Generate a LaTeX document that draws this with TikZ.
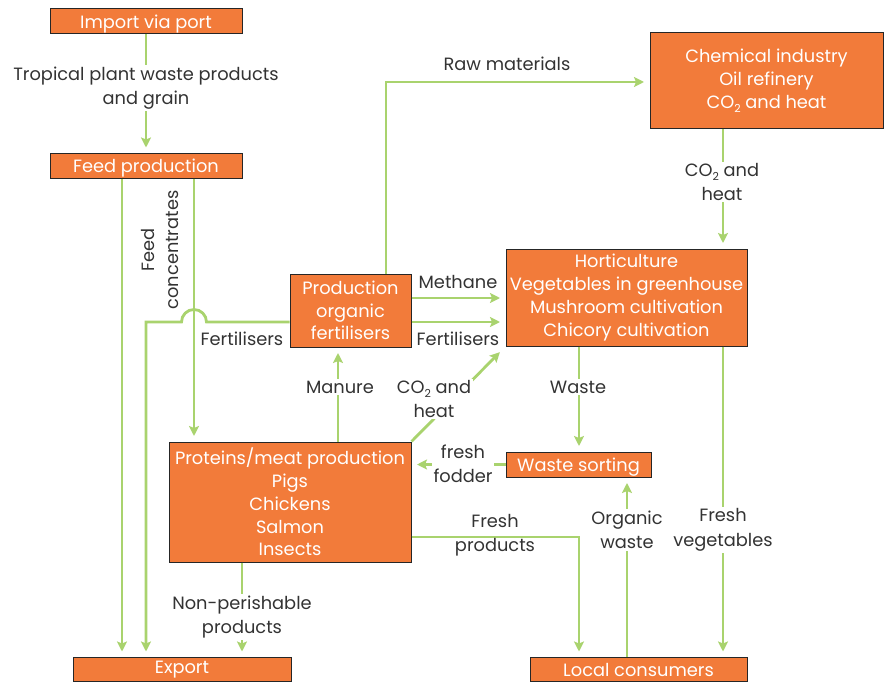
\documentclass[tikz,border=0pt]{standalone}
\usepackage{fontspec}
\setmainfont{Poppins}
\usetikzlibrary{arrows.meta}

\definecolor{boxorange}{HTML}{F27B3A}
\definecolor{flowgreen}{HTML}{A9D36E}
\definecolor{labelgray}{HTML}{333333}

% lowered subscript for CO2
\newcommand{\dn}[1]{\raisebox{-0.45ex}{\fontsize{11}{11}\selectfont #1}}

\tikzset{
  textdrop/.style={execute at begin node={\rule{0pt}{#1}}},
  textdrop/.default=18pt,
  box/.style={draw=black!85, line width=1pt, fill=boxorange, text=white,
    align=center, inner sep=0pt, font=\fontsize{17.8}{22.7}\selectfont},
  onebox/.style={box, minimum height=25pt, textdrop},
  basebox/.style={box, minimum height=24pt},
  lbl/.style={text=labelgray, align=center, inner sep=1.5pt,
    font=\fontsize{17.8}{24.5}\selectfont},
  lblw/.style={lbl, fill=white},
  flow/.style={draw=flowgreen, line width=2.8pt},
  arr/.style={flow, -{Stealth[length=10pt,width=10pt,inset=2pt]}, shorten >=5.5pt},
}

\begin{document}
\begin{tikzpicture}[x=1pt, y=-1pt]
  \useasboundingbox (0,0) rectangle (884,682);

  % boxes
  \node[onebox, minimum width=192pt] (imp)    at (146,21.5)  {Import via port};
  \node[onebox, minimum width=192pt] (feed)   at (146,166)   {Feed production};
  \node[box, minimum width=233pt, minimum height=96pt] (chem)   at (766.5,81)  {Chemical industry\\Oil refinery\\CO\dn{2} and heat};
  \node[box, minimum width=241pt, minimum height=97pt] (hort)   at (626.5,297.5) {Horticulture\\Vegetables in greenhouse\\Mushroom cultivation\\Chicory cultivation};
  \node[box, minimum width=121pt, minimum height=73pt] (pof)    at (350.5,310.5) {Production\\organic\\fertilisers};
  \node[box, minimum width=242pt, minimum height=120pt] (prot)  at (290,502)   {Proteins/meat production\\Pigs\\Chickens\\Salmon\\Insects};
  \node[onebox, minimum width=145pt] (ws)     at (578.5,464.5) {Waste sorting};
  \node[basebox, minimum width=218pt] (export) at (182,669.5)  {Export};
  \node[basebox, minimum width=217pt] (local)  at (638.5,669.5) {Local consumers};

  % guide positions for the connector lanes
  \coordinate (ym)  at (0,298);
  \coordinate (yf)  at (0,322);
  \coordinate (yp)  at (0,537);
  \coordinate (yr)  at (0,82);
  \coordinate (xa)  at (122,0);
  \coordinate (xb)  at (146,0);
  \coordinate (xc)  at (194,0);
  \coordinate (xd)  at (242,0);
  \coordinate (xm)  at (338,0);
  \coordinate (xr)  at (386,0);
  \coordinate (xw)  at (579,0);
  \coordinate (xo)  at (627,0);
  \coordinate (xv)  at (723,0);
  \coordinate (hopR) at (206.5,322);
  \coordinate (hopL) at (181.5,322);

  % connectors
  \draw[arr] (imp) -- (feed);
  \draw[arr] (feed.south -| xa) -- (export.north -| xa);
  \draw[arr] (feed.south -| xc) -- (prot.north -| xc);
  \draw[arr] (pof.west |- yf) -- (hopR)
     .. controls (206.5,315.1) and (200.9,309.5) .. (194,309.5)
     .. controls (187.1,309.5) and (181.5,315.1) .. (hopL)
     -- (xb |- yf) -- (export.north -| xb);
  \draw[arr] (pof.north -| xr) -- (xr |- yr) -- (chem.west |- yr);
  \draw[arr] (chem.south -| xv) -- (hort.north -| xv);
  \draw[arr] (pof.east |- ym) -- (hort.west |- ym);
  \draw[arr] (pof.east |- yf) -- (hort.west |- yf);
  \draw[arr, shorten >=8pt] (prot.north east) -- (hort.south west);
  \draw[arr] (prot.north -| xm) -- (pof.south -| xm);
  \draw[arr] (hort.south -| xw) -- (ws.north -| xw);
  \draw[arr] (ws.west) -- (prot.east |- ws.west);
  \draw[arr] (prot.east |- yp) -- (xw |- yp) -- (local.north -| xw);
  \draw[arr] (local.north -| xo) -- (ws.south -| xo);
  \draw[arr] (hort.south -| xv) -- (local.north -| xv);
  \draw[arr] (prot.south -| xd) -- (export.north -| xd);

  % connector labels
  \node[lblw] (l1)  at (146,88)  {Tropical plant waste products\\and grain};
  \node[lbl, rotate=90] (l2) at (160,250) {Feed\\concentrates};
  \node[lbl]  (l3)  at (242,339) {Fertilisers};
  \node[lbl]  (l4)  at (507,64)  {Raw materials};
  \node[lblw] (l5)  at (722,182) {CO\dn{2} and\\heat};
  \node[lbl]  (l6)  at (458,282) {Methane};
  \node[lbl]  (l7)  at (458,339) {Fertilisers};
  \node[lblw] (l8)  at (340,387) {Manure};
  \node[lblw] (l9)  at (434,399) {CO\dn{2} and\\heat};
  \node[lblw] (l10) at (578,387) {Waste};
  \node[lblw] (l11) at (463,464) {fresh\\fodder};
  \node[lbl]  (l12) at (495,535) {Fresh\\products};
  \node[lblw] (l13) at (627,530) {Organic\\waste};
  \node[lblw] (l14) at (723,530) {Fresh\\vegetables};
  \node[lblw] (l15) at (242,617) {Non-perishable\\products};
\end{tikzpicture}
\end{document}
